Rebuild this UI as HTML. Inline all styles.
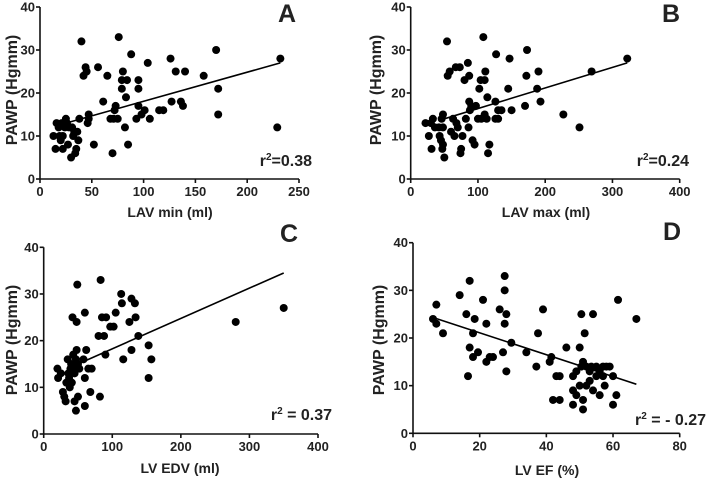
<!DOCTYPE html>
<html><head><meta charset="utf-8"><style>
body{margin:0;background:#fff;}
svg{display:block;font-family:"Liberation Sans",Arial,sans-serif;font-weight:bold;fill:#222;}
</style></head><body>
<svg id="fig" width="709" height="480" viewBox="0 0 709 480" xmlns="http://www.w3.org/2000/svg"></svg>
<script>
// Panel A data
const aX=[13,15,16,18,19,20,21,22,22,24,25,26,27,28,30,31,32,33,34,35,36,37,38,40,42,44,45,46,47,47,52,56,61,65,68,70,71,72,73,75,76,79,79,80,82,83,84,85,88,93,95,95,95,98,101,104,106,115,119,126,127,131,136,138,140,158,170,172,172,229,232];
const aY=[10,7,13,12,10,9,13,10,7,12,14,13,8,12,5,12,10,11,6,7,11,9,14,32,24,26,25,13,14,15,8,26,18,24,14,6,14,16,17,14,33,23,21,25,12,19,23,8,29,14,23,21,17,15,16,27,14,16,16,28,18,25,18,17,25,24,30,21,15,12,28];
const aLine=[[25,13],[232,27]];
const aXTicks=[0,50,100,150,200,250];
// Panel B data
const bX=[22,27,30,31,33,36,42,43,45,46,47,48,48,48,50,54,55,58,60,63,65,67,68,70,73,74,75,77,80,82,85,86,87,87,88,90,92,95,97,100,102,104,105,108,110,110,111,113,114,115,117,126,126,127,130,130,135,145,147,150,170,172,173,188,190,193,227,251,269,322];
const bY=[13,10,13,7,14,12,12,10,9,14,7,12,15,8,5,32,24,25,11,14,10,26,13,12,26,6,7,10,23,14,27,12,18,24,16,17,9,8,17,14,21,23,14,33,15,23,25,14,19,6,8,18,14,29,16,14,16,21,28,16,17,24,30,21,25,18,15,12,25,28];
const bLine=[[50,14],[322,27]];
const bXTicks=[0,100,200,300,400];
// Panel C data
const cX=[20,21,25,28,30,32,33,35,36,37,38,39,40,41,42,43,45,45,46,47,47,48,48,49,50,50,52,58,60,60,60,62,65,68,70,80,82,83,85,88,90,91,97,102,105,113,114,116,125,128,128,133,134,138,153,153,157,280,350];
const cY=[14,12,13,9,8,7,11,16,13,12,10,14,15,11,25,17,7,13,14,5,16,24,18,32,8,15,14,16,6,12,26,18,14,9,14,21,8,33,25,21,17,25,23,23,26,30,28,16,24,29,18,28,25,21,12,19,16,24,27];
const cLine=[[50,15],[350,34.5]];
const cXTicks=[0,100,200,300,400];
// Panel D data
const dX=[6,7,7,9,14,16,17,17,16.5,18,18,18.5,19.5,21,22,22,23,24,26,27,27.5,27.5,27.5,28,28,29.5,34,37,37.5,39,41,41.5,42,43,44,44,46,48,48,48,49,49,50,50,50.5,50.5,51,51,51,51.5,52,52,53,53,53.5,54,54,55,55,56,56,57,57,57.5,58,59,60,60,61,61.5,67];
const dY=[24,23,27,21,29,25,32,18,12,21,16,24,17,28,23,15,16,16,26,17,23,30,33,13,25,19,17,14,21,26,15,16,7,12,12,7,18,6,12,9,13,8,18,10,14,25,15,5,7,21,10,14,13,11,14,9,25,12,14,8,13,12,14,10,14,14,6,12,8,28,24];
const dLine=[[6,24.3],[67,10.3]];
const dXTicks=[0,20,40,60,80];
const yTicks=[0,10,20,30,40];

const NS="http://www.w3.org/2000/svg";
const svg=document.getElementById('fig');
function mk(tag,attrs,parent){const e=document.createElementNS(NS,tag);for(const k in attrs)e.setAttribute(k,attrs[k]);(parent||svg).appendChild(e);return e;}

function panel(p){
  const g=mk('g',{});
  
  
  const sx=v=>p.x0+(v-0)/p.xmax*(p.x1-p.x0);
  const sy=v=>p.y0-(v/40)*(p.y0-p.y1);
  const ax=mk('g',{stroke:'#111','stroke-width':1.6,fill:'none'},g);
  
  
  mk('line',{x1:p.x0,y1:p.y1,x2:p.x0,y2:p.y0},ax);
  mk('line',{x1:p.x0,y1:p.y0,x2:p.x1,y2:p.y0},ax);
  yTicks.forEach(v=>{
    mk('line',{x1:p.x0-4,y1:sy(v),x2:p.x0,y2:sy(v)},ax);
    const t=mk('text',{x:p.x0-5,y:sy(v)+4.5,'text-anchor':'end','font-size':13},g);
    
    
    t.textContent=v;
  });
  p.ticks.forEach(v=>{
    mk('line',{x1:sx(v),y1:p.y0,x2:sx(v),y2:p.y0+4},ax);
    const t=mk('text',{x:sx(v),y:p.y0+17,'text-anchor':'middle','font-size':13},g);
    
    
    t.textContent=v;
  });
  const pts=mk('g',{fill:'#000'},g);
  
  
  p.xs.forEach((x,i)=>{
    const c=mk('circle',{cx:sx(x),cy:sy(p.ys[i]),r:4},pts);
    
    
  });
  const l=mk('line',{x1:sx(p.line[0][0]),y1:sy(p.line[0][1]),x2:sx(p.line[1][0]),y2:sy(p.line[1][1]),stroke:'#000','stroke-width':1.6},g);
  
  
  const xt=mk('text',{x:p.xtx,y:p.xty,'text-anchor':'middle','font-size':14},g);
  
  
  xt.textContent=p.xtitle;
  const yt=mk('text',{x:0,y:0,'text-anchor':'middle','font-size':16,transform:'translate('+p.ytx+','+p.yty+') rotate(-90)'},g);
  
  
  yt.textContent='PAWP (Hgmm)';
  const lt=mk('text',{x:p.lx,y:p.ly,'text-anchor':'middle','font-size':25},g);
  
  
  lt.textContent=p.id;
  const r=mk('text',{x:p.rx,y:p.ry,'text-anchor':'end','font-size':p.rfs},g);
  
  
  r.innerHTML='r<tspan dy="-6" font-size="10">2</tspan><tspan dy="6">'+p.rtxt+'</tspan>';
}
panel({id:'A',x0:40,x1:299,xmax:250,y0:179,y1:7,xs:aX,ys:aY,line:aLine,ticks:aXTicks,xtitle:'LAV min (ml)',xtx:170,xty:217,ytx:17,yty:90,lx:287,ly:22,rx:312,ry:166,rfs:16,rtxt:'=0.38'});
panel({id:'B',x0:410.7,x1:679.7,xmax:400,y0:179,y1:7,xs:bX,ys:bY,line:bLine,ticks:bXTicks,xtitle:'LAV max (ml)',xtx:546,xty:217,ytx:381,yty:90,lx:671,ly:22,rx:689,ry:166,rfs:16,rtxt:'=0.24'});
panel({id:'C',x0:43.7,x1:318,xmax:400,y0:434,y1:247.3,xs:cX,ys:cY,line:cLine,ticks:cXTicks,xtitle:'LV EDV (ml)',xtx:180,xty:473,ytx:17,yty:340,lx:289,ly:242,rx:332,ry:420,rfs:16,rtxt:' = 0.37'});
panel({id:'D',x0:413,x1:679.7,xmax:80,y0:433.3,y1:242.7,xs:dX,ys:dY,line:dLine,ticks:dXTicks,xtitle:'LV EF (%)',xtx:547,xty:475,ytx:384,yty:340,lx:672,ly:240,rx:706,ry:425,rfs:16,rtxt:' = - 0.27'});
</script>
</body></html>
